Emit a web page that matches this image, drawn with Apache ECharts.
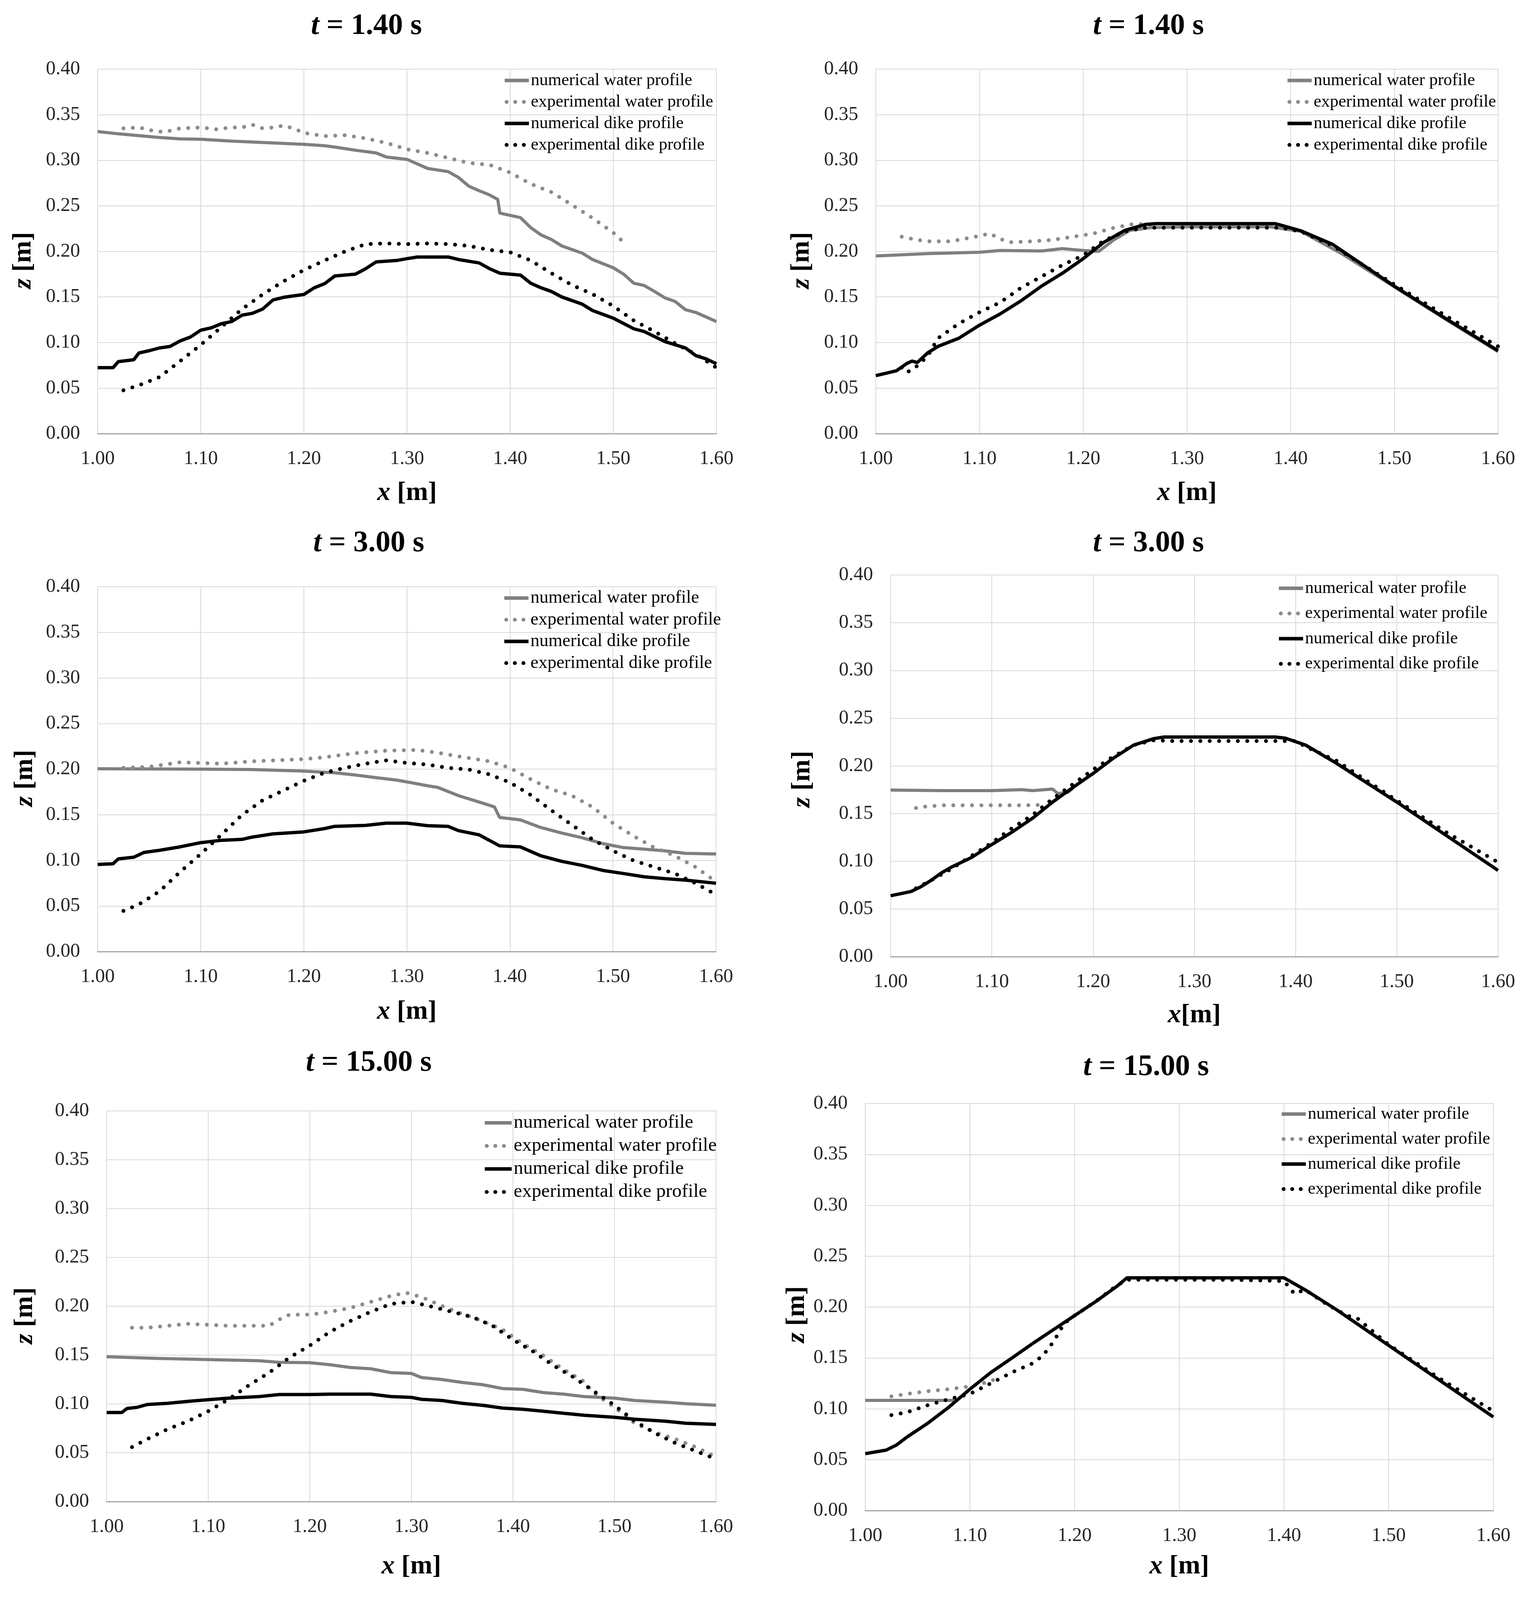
<!DOCTYPE html>
<html><head><meta charset="utf-8">
<script src="https://cdn.jsdelivr.net/npm/echarts@6/dist/echarts.min.js"></script>
<style>html,body{margin:0;padding:0;background:#fff}#c{width:3904px;height:4229px}</style>
</head><body><div id="c"></div>
<script>
// ---------- data ----------
const seriesNames = ['numerical water profile','experimental water profile','numerical dike profile','experimental dike profile'];
const panelTimes = ['1.40','1.40','3.00','3.00','15.00','15.00'];
const panelTags = ['a','b'];
const xMin = 1.0, xMax = 1.6, xStep = 0.1;
const zMin = 0.0, zMax = 0.4, zStep = 0.05;

// t = 1.40 s, column (a)
const a140NumWater = [[1.00,0.3315],[1.02,0.329],[1.04,0.327],[1.06,0.325],[1.08,0.3235],[1.10,0.323],[1.13,0.321],[1.16,0.3195],[1.20,0.3175],[1.22,0.316],[1.23,0.3145],[1.25,0.311],[1.27,0.308],[1.28,0.3035],[1.30,0.301],[1.31,0.296],[1.32,0.291],[1.34,0.2875],[1.35,0.281],[1.36,0.2715],[1.37,0.2665],[1.38,0.262],[1.388,0.257],[1.39,0.242],[1.41,0.237],[1.42,0.226],[1.43,0.218],[1.44,0.213],[1.45,0.206],[1.47,0.198],[1.48,0.191],[1.50,0.182],[1.51,0.175],[1.52,0.165],[1.53,0.1625],[1.54,0.156],[1.55,0.149],[1.56,0.145],[1.57,0.136],[1.58,0.133],[1.60,0.123]];
const a140ExpWater = [[1.025,0.335],[1.04,0.336],[1.055,0.332],[1.065,0.331],[1.08,0.335],[1.10,0.336],[1.115,0.334],[1.13,0.336],[1.14,0.336],[1.15,0.339],[1.16,0.335],[1.17,0.336],[1.18,0.338],[1.19,0.335],[1.20,0.330],[1.22,0.3265],[1.24,0.3275],[1.26,0.324],[1.28,0.319],[1.30,0.312],[1.32,0.308],[1.34,0.3025],[1.36,0.297],[1.38,0.295],[1.40,0.2865],[1.42,0.274],[1.44,0.265],[1.46,0.251],[1.48,0.2365],[1.50,0.2205],[1.51,0.210]];
const a140NumDike = [[1.00,0.0724],[1.015,0.0724],[1.02,0.079],[1.035,0.081],[1.04,0.0885],[1.05,0.091],[1.06,0.094],[1.07,0.0956],[1.08,0.1017],[1.09,0.106],[1.10,0.1135],[1.11,0.116],[1.12,0.1206],[1.13,0.123],[1.14,0.130],[1.15,0.132],[1.16,0.1367],[1.17,0.1467],[1.18,0.1495],[1.20,0.1527],[1.21,0.160],[1.22,0.1645],[1.23,0.173],[1.25,0.175],[1.26,0.181],[1.27,0.1884],[1.29,0.190],[1.30,0.192],[1.31,0.1938],[1.34,0.1938],[1.35,0.191],[1.37,0.1873],[1.38,0.181],[1.39,0.176],[1.41,0.174],[1.42,0.165],[1.43,0.160],[1.44,0.156],[1.45,0.150],[1.47,0.142],[1.48,0.135],[1.50,0.1267],[1.52,0.115],[1.53,0.112],[1.55,0.101],[1.57,0.094],[1.58,0.0856],[1.59,0.082],[1.60,0.0767]];
const a140ExpDike = [[1.025,0.0475],[1.04,0.053],[1.06,0.062],[1.08,0.0796],[1.10,0.0974],[1.12,0.117],[1.14,0.1367],[1.16,0.1527],[1.18,0.167],[1.20,0.1795],[1.22,0.190],[1.24,0.200],[1.26,0.208],[1.28,0.2087],[1.30,0.208],[1.32,0.2087],[1.34,0.208],[1.36,0.206],[1.38,0.2016],[1.40,0.199],[1.42,0.190],[1.44,0.176],[1.46,0.163],[1.48,0.153],[1.50,0.140],[1.52,0.124],[1.54,0.112],[1.56,0.099],[1.58,0.087],[1.60,0.0724]];

// t = 1.40 s, column (b)
const b140NumWater = [[1.00,0.195],[1.05,0.1975],[1.10,0.199],[1.12,0.201],[1.16,0.2004],[1.18,0.203],[1.20,0.201],[1.215,0.200],[1.23,0.213],[1.245,0.223],[1.265,0.226],[1.30,0.227],[1.38,0.227],[1.41,0.222],[1.45,0.197],[1.50,0.161],[1.55,0.125],[1.60,0.090]];
const b140ExpWater = [[1.025,0.2161],[1.04,0.2125],[1.05,0.211],[1.07,0.211],[1.08,0.2125],[1.10,0.217],[1.11,0.2196],[1.12,0.2136],[1.13,0.210],[1.15,0.211],[1.17,0.2125],[1.19,0.216],[1.21,0.2196],[1.23,0.226],[1.25,0.2304],[1.265,0.229]];
const b140NumDike = [[1.00,0.0636],[1.02,0.069],[1.03,0.077],[1.035,0.0796],[1.04,0.078],[1.05,0.0886],[1.06,0.0957],[1.08,0.1046],[1.10,0.119],[1.12,0.1314],[1.14,0.1457],[1.16,0.162],[1.18,0.176],[1.20,0.192],[1.22,0.210],[1.24,0.223],[1.26,0.2296],[1.27,0.2304],[1.385,0.2304],[1.39,0.229],[1.41,0.2225],[1.44,0.208],[1.50,0.1618],[1.55,0.126],[1.60,0.091]];
const b140ExpDike = [[1.025,0.0725],[1.03,0.067],[1.04,0.0743],[1.05,0.085],[1.06,0.1046],[1.08,0.1207],[1.10,0.1332],[1.12,0.144],[1.14,0.160],[1.16,0.1725],[1.18,0.185],[1.20,0.1957],[1.22,0.2118],[1.24,0.2218],[1.26,0.226],[1.30,0.226],[1.35,0.226],[1.39,0.226],[1.41,0.2218],[1.44,0.2064],[1.50,0.1636],[1.55,0.129],[1.60,0.0957]];

// t = 3.00 s, column (a)
const a300NumWater = [[1.00,0.2004],[1.10,0.200],[1.15,0.1996],[1.20,0.1979],[1.23,0.196],[1.25,0.1936],[1.27,0.1907],[1.29,0.188],[1.30,0.186],[1.32,0.1818],[1.33,0.180],[1.35,0.171],[1.37,0.164],[1.385,0.1586],[1.39,0.147],[1.41,0.1444],[1.43,0.136],[1.45,0.130],[1.47,0.1248],[1.49,0.1184],[1.51,0.114],[1.53,0.1123],[1.55,0.1105],[1.57,0.1077],[1.60,0.107]];
const a300ExpWater = [[1.025,0.2014],[1.05,0.2025],[1.08,0.2075],[1.10,0.2068],[1.12,0.206],[1.15,0.2086],[1.18,0.210],[1.20,0.211],[1.22,0.213],[1.25,0.2175],[1.28,0.2203],[1.31,0.221],[1.33,0.218],[1.35,0.214],[1.38,0.2086],[1.40,0.2014],[1.42,0.189],[1.44,0.178],[1.46,0.171],[1.48,0.1586],[1.50,0.1408],[1.52,0.1266],[1.54,0.114],[1.56,0.105],[1.58,0.0927],[1.60,0.0766]];
const a300NumDike = [[1.00,0.0955],[1.015,0.0963],[1.02,0.1016],[1.035,0.1034],[1.045,0.1087],[1.06,0.111],[1.08,0.1148],[1.10,0.1194],[1.12,0.122],[1.14,0.123],[1.15,0.1255],[1.17,0.129],[1.20,0.1312],[1.22,0.1348],[1.23,0.1373],[1.26,0.1383],[1.28,0.1408],[1.30,0.1408],[1.32,0.138],[1.34,0.1373],[1.35,0.1326],[1.37,0.128],[1.38,0.122],[1.39,0.1159],[1.41,0.1148],[1.43,0.105],[1.45,0.099],[1.47,0.0945],[1.49,0.089],[1.51,0.0856],[1.53,0.082],[1.55,0.080],[1.57,0.0784],[1.60,0.0749]];
const a300ExpDike = [[1.025,0.0446],[1.04,0.0517],[1.06,0.066],[1.08,0.0873],[1.10,0.107],[1.12,0.128],[1.14,0.1497],[1.16,0.1658],[1.18,0.1765],[1.20,0.1872],[1.22,0.196],[1.24,0.2014],[1.26,0.206],[1.28,0.2096],[1.30,0.2068],[1.32,0.205],[1.34,0.2014],[1.36,0.1996],[1.38,0.1943],[1.40,0.1854],[1.42,0.1718],[1.44,0.155],[1.46,0.139],[1.48,0.123],[1.50,0.1105],[1.52,0.0998],[1.54,0.0927],[1.56,0.0856],[1.58,0.075],[1.60,0.0624]];

// t = 3.00 s, column (b)
const b300NumWater = [[1.00,0.1746],[1.05,0.174],[1.10,0.174],[1.13,0.175],[1.14,0.174],[1.16,0.1756],[1.165,0.171],[1.175,0.172],[1.18,0.1765]];
const b300ExpWater = [[1.025,0.1558],[1.03,0.1569],[1.05,0.1586],[1.07,0.1586],[1.09,0.1586],[1.11,0.1586],[1.13,0.1586],[1.15,0.159]];
const b300NumDike = [[1.00,0.0638],[1.02,0.0682],[1.03,0.0733],[1.04,0.080],[1.05,0.0876],[1.06,0.0938],[1.08,0.104],[1.10,0.1176],[1.12,0.1306],[1.14,0.1449],[1.16,0.162],[1.18,0.1773],[1.20,0.192],[1.22,0.208],[1.24,0.2217],[1.26,0.2285],[1.27,0.2302],[1.38,0.2302],[1.39,0.229],[1.41,0.2217],[1.44,0.2029],[1.50,0.162],[1.55,0.1262],[1.60,0.0904]];
const b300ExpDike = [[1.025,0.0716],[1.04,0.080],[1.06,0.092],[1.08,0.1057],[1.10,0.1194],[1.12,0.1347],[1.14,0.1483],[1.16,0.1654],[1.18,0.1807],[1.20,0.1961],[1.22,0.2097],[1.24,0.2217],[1.26,0.2268],[1.28,0.226],[1.33,0.226],[1.40,0.226],[1.41,0.220],[1.44,0.2056],[1.50,0.1637],[1.55,0.1296],[1.60,0.0989]];

// t = 15.00 s, column (a)
const a1500NumWater = [[1.00,0.1483],[1.05,0.1466],[1.10,0.1454],[1.15,0.1442],[1.17,0.1426],[1.20,0.1422],[1.22,0.1401],[1.24,0.1373],[1.26,0.136],[1.28,0.132],[1.30,0.1312],[1.31,0.127],[1.33,0.125],[1.35,0.122],[1.37,0.1197],[1.39,0.1157],[1.41,0.1149],[1.43,0.1116],[1.45,0.110],[1.47,0.1075],[1.50,0.1059],[1.52,0.1035],[1.55,0.1018],[1.57,0.1002],[1.60,0.0986]];
const a1500ExpWater = [[1.025,0.178],[1.04,0.178],[1.06,0.180],[1.08,0.182],[1.10,0.181],[1.12,0.180],[1.16,0.180],[1.17,0.1865],[1.18,0.1914],[1.20,0.1914],[1.22,0.1943],[1.24,0.1983],[1.26,0.2045],[1.28,0.2106],[1.295,0.2138],[1.31,0.2094],[1.33,0.2004],[1.35,0.1923],[1.37,0.1849],[1.39,0.176],[1.41,0.1617],[1.43,0.1495],[1.45,0.1352],[1.47,0.123],[1.48,0.1108],[1.50,0.0965],[1.52,0.0802],[1.54,0.0709],[1.56,0.064],[1.58,0.0558],[1.60,0.0456]];
const a1500NumDike = [[1.00,0.0912],[1.015,0.0912],[1.02,0.0953],[1.03,0.0965],[1.04,0.0994],[1.06,0.1006],[1.08,0.1026],[1.10,0.1043],[1.12,0.1059],[1.15,0.1075],[1.17,0.1096],[1.20,0.1096],[1.22,0.110],[1.26,0.110],[1.28,0.1075],[1.30,0.1067],[1.31,0.1047],[1.33,0.1035],[1.35,0.1006],[1.37,0.0986],[1.39,0.0957],[1.41,0.0945],[1.43,0.0925],[1.45,0.0904],[1.47,0.0884],[1.50,0.0863],[1.52,0.0843],[1.55,0.0823],[1.57,0.0802],[1.60,0.079]];
const a1500ExpDike = [[1.025,0.0558],[1.04,0.064],[1.06,0.0741],[1.08,0.0823],[1.10,0.0925],[1.12,0.1047],[1.14,0.119],[1.16,0.132],[1.18,0.1475],[1.20,0.1597],[1.22,0.1739],[1.24,0.1849],[1.26,0.1943],[1.28,0.2024],[1.30,0.2045],[1.32,0.1996],[1.34,0.1943],[1.36,0.189],[1.38,0.180],[1.40,0.1658],[1.42,0.1536],[1.44,0.1393],[1.46,0.1271],[1.48,0.1128],[1.50,0.0986],[1.52,0.0823],[1.54,0.070],[1.56,0.0599],[1.58,0.0517],[1.60,0.0436]];

// t = 15.00 s, column (b)
const b1500NumWater = [[1.00,0.1083],[1.085,0.1083]];
const b1500ExpWater = [[1.025,0.1122],[1.04,0.1146],[1.06,0.1173],[1.08,0.1193],[1.10,0.122],[1.12,0.127],[1.125,0.130]];
const b1500NumDike = [[1.00,0.0559],[1.02,0.0594],[1.03,0.0645],[1.04,0.0723],[1.06,0.086],[1.08,0.1017],[1.10,0.1193],[1.12,0.1357],[1.14,0.1498],[1.16,0.1642],[1.18,0.1779],[1.20,0.1916],[1.22,0.2053],[1.24,0.2201],[1.25,0.2287],[1.40,0.2287],[1.42,0.217],[1.45,0.1975],[1.50,0.1623],[1.55,0.1271],[1.60,0.0919]];
const b1500ExpDike = [[1.025,0.0938],[1.04,0.0966],[1.06,0.1036],[1.08,0.1095],[1.10,0.1146],[1.12,0.1251],[1.14,0.1357],[1.16,0.1447],[1.17,0.1525],[1.18,0.1662],[1.19,0.1838],[1.20,0.1916],[1.22,0.2053],[1.24,0.2209],[1.25,0.2268],[1.30,0.2268],[1.35,0.2268],[1.40,0.2256],[1.41,0.213],[1.42,0.217],[1.44,0.2033],[1.46,0.1916],[1.47,0.189],[1.50,0.163],[1.55,0.129],[1.60,0.0977]];

const panelData = [
  [a140NumWater, a140ExpWater, a140NumDike, a140ExpDike],
  [b140NumWater, b140ExpWater, b140NumDike, b140ExpDike],
  [a300NumWater, a300ExpWater, a300NumDike, a300ExpDike],
  [b300NumWater, b300ExpWater, b300NumDike, b300ExpDike],
  [a1500NumWater, a1500ExpWater, a1500NumDike, a1500ExpDike],
  [b1500NumWater, b1500ExpWater, b1500NumDike, b1500ExpDike]
];

// ---------- layout & style ----------
const FONT = '"Liberation Serif","Times New Roman",serif';
const layouts = [
  {grid:[250,177,1584,933],  title:[938,67],   xGap:118, yGap:156, yShift:23, lg:{left:1287, top:184, fs:44, gap:11, iw:62}, xName:'{i|x}{n| [m]}'},
  {grid:[2242,177,1593,933], title:[2940,67],  xGap:118, yGap:156, yShift:23, lg:{left:3291, top:184, fs:44, gap:11, iw:62}, xName:'{i|x}{n| [m]}'},
  {grid:[250,1502,1583,934], title:[944,1391], xGap:120, yGap:152, yShift:23, lg:{left:1286, top:1508, fs:46, gap:9.5, iw:62}, xName:'{i|x}{n| [m]}'},
  {grid:[2280,1472,1555,977],title:[2940,1391],xGap:116, yGap:192, yShift:34, lg:{left:3269, top:1484, fs:44, gap:20.5, iw:62}, xName:'{i|x}{n|[m]}'},
  {grid:[273,2844,1560,1000],title:[944,2721], xGap:132, yGap:175, yShift:24, lg:{left:1236, top:2850, fs:49, gap:10, iw:69}, xName:'{i|x}{n| [m]}'},
  {grid:[2215,2825,1608,1042],title:[2934,2732],xGap:109, yGap:141, yShift:19, lg:{left:3276, top:2830, fs:44, gap:20, iw:62}, xName:'{i|x}{n| [m]}'}
];
const tagPos = [[940,4158],[2940,4166]];
const lineStyles = [
  {color:'#7f7f7f', width:8, type:'solid', cap:'butt'},
  {color:'#8c8c8c', width:10, type:[0.01,24], cap:'round'},
  {color:'#000000', width:8.5, type:'solid', cap:'butt'},
  {color:'#000000', width:10, type:[0.01,24], cap:'round'}
];
const legendLine = [
  {color:'#7f7f7f', width:9, type:'solid', cap:'butt'},
  {color:'#8c8c8c', width:10, type:[0.01,22], cap:'round', dashOffset:-5},
  {color:'#000000', width:9, type:'solid', cap:'butt'},
  {color:'#000000', width:10, type:[0.01,22], cap:'round', dashOffset:-5}
];

const nameRich = (fs) => ({
  i:{fontFamily:FONT, fontSize:fs, fontWeight:'bold', fontStyle:'italic', color:'#000'},
  n:{fontFamily:FONT, fontSize:fs, fontWeight:'bold', color:'#000'}
});

const option = {animation:false, backgroundColor:'#fff', title:[], grid:[], xAxis:[], yAxis:[], legend:[], series:[]};

layouts.forEach((L, k) => {
  const [gl, gt, gw, gh] = L.grid;
  option.grid.push({left:gl, top:gt, width:gw, height:gh, containLabel:false});
  option.title.push({
    text:'{i|t}{n| = ' + panelTimes[k] + ' s}',
    left:L.title[0], top:L.title[1], textAlign:'center', textVerticalAlign:'middle', padding:0,
    textStyle:{rich:nameRich(76)}
  });
  option.xAxis.push({
    type:'value', gridIndex:k, min:xMin, max:xMax, interval:xStep,
    name:L.xName, nameLocation:'middle', nameGap:L.xGap,
    nameTextStyle:{rich:nameRich(68)},
    axisLine:{show:true, lineStyle:{color:'#a6a6a6', width:3}},
    axisTick:{show:false},
    splitLine:{show:true, lineStyle:{color:'#d9d9d9', width:2}},
    axisLabel:{margin:40, fontFamily:FONT, fontSize:50, color:'#262626', formatter:v => v.toFixed(2)}
  });
  option.yAxis.push({
    type:'value', gridIndex:k, min:zMin, max:zMax, interval:zStep,
    name:'{i|z}{n| [m]}', nameLocation:'middle', nameGap:L.yGap,
    nameTextStyle:{rich:nameRich(68), padding:[0, 2*L.yShift, 0, 0]},
    axisLine:{show:false}, axisTick:{show:false},
    splitLine:{show:true, lineStyle:{color:'#d9d9d9', width:2}},
    axisLabel:{margin:45, fontFamily:FONT, fontSize:50, color:'#262626', formatter:v => v.toFixed(2)}
  });
  option.legend.push({
    orient:'vertical', left:L.lg.left, top:L.lg.top, padding:0,
    itemWidth:L.lg.iw, itemHeight:14, itemGap:L.lg.gap, selectedMode:false,
    data:seriesNames.map((n, s) => ({name:n, lineStyle:legendLine[s],
      itemStyle:{color:'rgba(0,0,0,0)', borderWidth:0, opacity:0}})),
    itemStyle:{color:'rgba(0,0,0,0)', borderWidth:0, opacity:0},
    textStyle:{fontFamily:FONT, fontSize:L.lg.fs, lineHeight:L.lg.fs, color:'#000'}
  });
  panelData[k].forEach((d, s) => {
    option.series.push({
      name:seriesNames[s], type:'line', xAxisIndex:k, yAxisIndex:k,
      data:d, symbol:'none', showSymbol:false, smooth:false,
      lineStyle:lineStyles[s], color:lineStyles[s].color,
      emphasis:{disabled:true}, z:2+s
    });
  });
});
tagPos.forEach((p, i) => {
  option.title.push({
    text:'{p|(}{b|' + panelTags[i] + '}{p|)}', left:p[0], top:p[1], textAlign:'center', textVerticalAlign:'middle', padding:0,
    textStyle:{rich:{
      p:{fontFamily:FONT, fontSize:96, fontWeight:'normal', color:'#000'},
      b:{fontFamily:FONT, fontSize:96, fontWeight:'bold', color:'#000'}
    }}
  });
});

const chart = echarts.init(document.getElementById('c'), null, {renderer:'canvas'});
chart.setOption(option);
</script></body></html>
